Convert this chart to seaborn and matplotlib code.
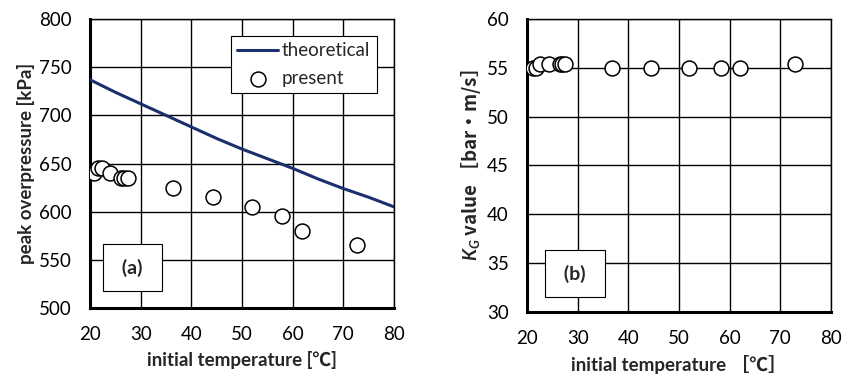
import matplotlib
matplotlib.use("Agg")
import matplotlib.pyplot as plt
import seaborn as sns
import numpy as np
import pandas as pd

# theoretical curve
theo_temp = [20, 25, 30, 35, 40, 45, 50, 55, 57.5, 60, 65, 70, 75, 80]
theo_pressure = [737, 724, 712, 700, 688, 676, 665, 655, 650, 645, 634, 624, 615, 605]

# measured points, panel (a)
temp_a = [20.8, 21.5, 22.4, 23.9, 26.1, 26.8, 27.4, 36.4, 44.3, 51.9, 57.9, 61.8, 72.7]
pressure_a = [640, 645, 645, 640, 635, 635, 635, 625, 615, 605, 595, 580, 565]

# measured points, panel (b)
temp_b = [21.2, 21.7, 22.5, 24.3, 26.5, 27.0, 27.6, 36.7, 44.4, 52.0, 58.2, 62.0, 72.9]
kg_b = [55.0, 55.0, 55.4, 55.4, 55.4, 55.4, 55.4, 55.0, 55.0, 55.0, 55.0, 55.0, 55.4]

sns.set_theme(style="ticks")
plt.rcParams["font.family"] = ["Lato", "Noto Sans CJK JP", "DejaVu Sans"]
plt.rcParams["mathtext.fontset"] = "custom"
plt.rcParams["mathtext.it"] = "Lato:italic:bold"
plt.rcParams["mathtext.rm"] = "Noto Sans CJK JP:bold"

fig = plt.figure(figsize=(8.43, 3.74), dpi=100)
ax1 = fig.add_axes([0.1068, 0.1765, 0.3606, 0.7725])
ax2 = fig.add_axes([0.6251, 0.1667, 0.3607, 0.7823])

line_col = "#1b2f6e"
mk = dict(marker="o", s=115, facecolor="white", edgecolor="black", linewidth=1.1, zorder=5)
fs_tick = 13.5
fs_lab = 13.5


def style_axes(ax, ylo, yhi):
    ax.set_xlim(20, 80)
    ax.set_ylim(ylo, yhi)
    ax.set_xticks(np.arange(20, 81, 10))
    ax.set_yticks(np.linspace(ylo, yhi, 7))
    ax.grid(True, color="black", linewidth=1.0)
    ax.set_axisbelow(True)
    for side in ["top", "right"]:
        ax.spines[side].set_visible(True)
        ax.spines[side].set_linewidth(1.0)
        ax.spines[side].set_color("black")
    for side in ["left", "bottom"]:
        ax.spines[side].set_linewidth(2.2)
        ax.spines[side].set_color("black")
    ax.tick_params(length=0, pad=13, labelsize=fs_tick, colors="black")


box = dict(boxstyle="square,pad=0.75", facecolor="white", edgecolor="black", linewidth=0.8)

# panel (a)
theo = pd.DataFrame({"t": theo_temp, "p": theo_pressure})
meas_a = pd.DataFrame({"t": temp_a, "p": pressure_a})
sns.lineplot(data=theo, x="t", y="p", ax=ax1, color=line_col, linewidth=2.2,
             label="theoretical", zorder=4)
sns.scatterplot(data=meas_a, x="t", y="p", ax=ax1, label="present", **mk)
style_axes(ax1, 500, 800)
ax1.set_xlabel("initial temperature [℃]", fontsize=fs_lab, fontweight="bold", labelpad=6)
ax1.set_ylabel("peak overpressure [kPa]", fontsize=fs_lab, fontweight="bold", labelpad=3)
leg = ax1.legend(loc="upper right", bbox_to_anchor=(0.975, 0.975), fontsize=fs_lab,
                 frameon=True, fancybox=False, framealpha=1, edgecolor="black",
                 handlelength=2.2, borderpad=0.35, labelspacing=0.55, handletextpad=0.2)
leg.get_frame().set_linewidth(0.8)
ax1.text(28.4, 542, " (a) ", fontsize=14, fontweight="bold", ha="center", va="center",
         bbox=box, zorder=6)

# panel (b)
meas_b = pd.DataFrame({"t": temp_b, "k": kg_b})
sns.scatterplot(data=meas_b, x="t", y="k", ax=ax2, **mk)
style_axes(ax2, 30, 60)
ax2.set_xlabel("initial temperature ［℃］", fontsize=fs_lab, fontweight="bold", labelpad=6)
ax2.set_ylabel("$K_G$ value ［bar・m/s］", fontsize=fs_lab, fontweight="bold", labelpad=3,
               family=["Noto Sans CJK JP"])
ax2.text(29.5, 33.9, " (b) ", fontsize=14, fontweight="bold", ha="center", va="center",
         bbox=box, zorder=6)

fig.savefig("out.png", dpi=100)
